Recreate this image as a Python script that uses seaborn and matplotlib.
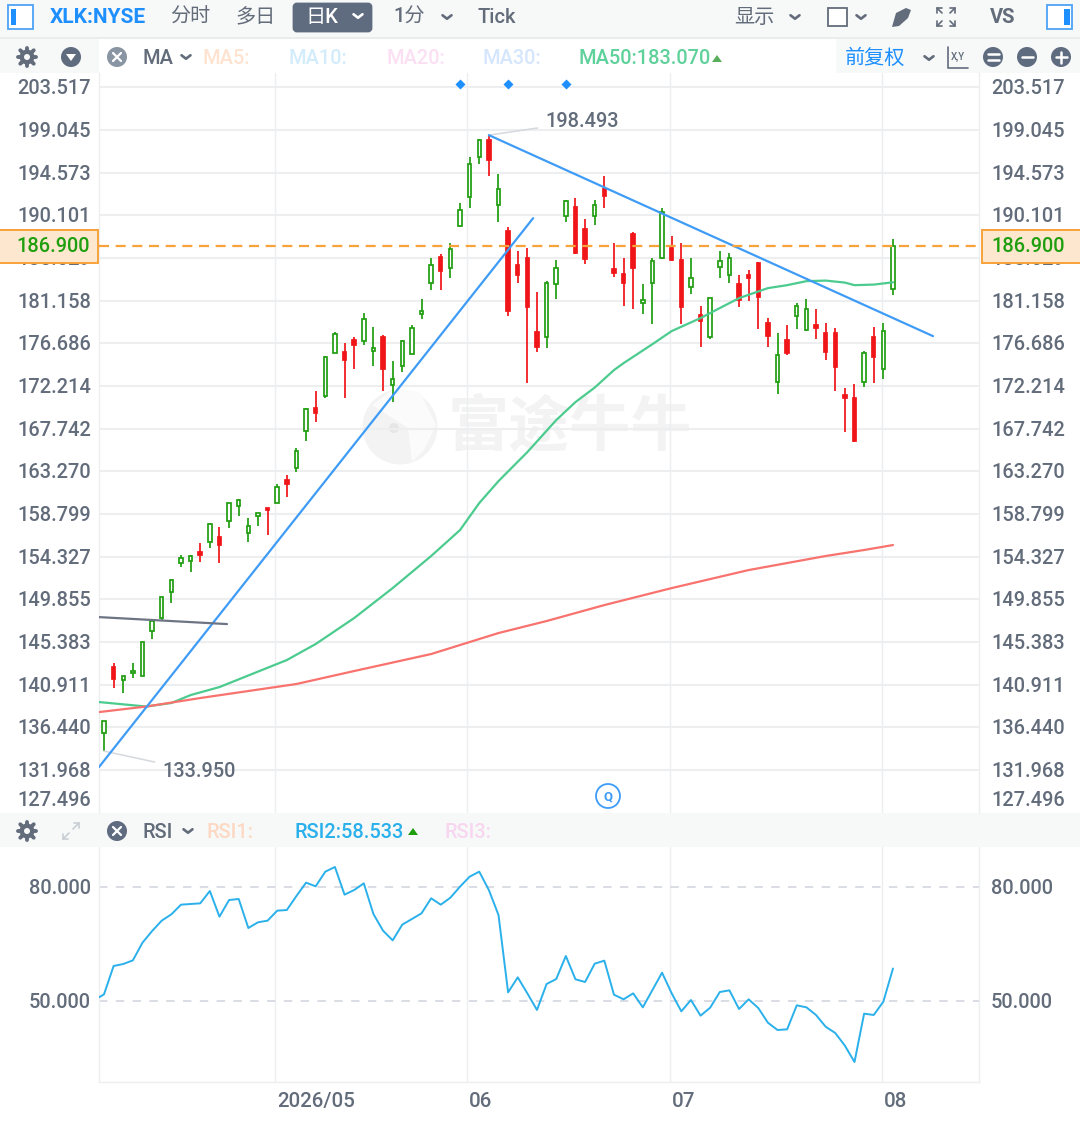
import matplotlib
matplotlib.use("Agg")
import matplotlib.pyplot as plt
from matplotlib.patches import Rectangle, FancyBboxPatch, Circle, Polygon
import seaborn as sns

# candles, one per trading day
opens = [135.81, 142.79, 141.36, 142.10, 141.85, 146.56, 147.86, 150.65, 153.68, 153.89,
         154.80, 155.88, 156.38, 158.02, 159.62, 156.76, 158.58, 159.41, 159.97, 162.35,
         163.57, 167.51, 169.86, 171.18, 175.68, 175.72, 177.01, 176.94, 175.89, 177.36,
         172.33, 174.29, 175.55, 179.74, 182.95, 185.74, 184.52, 188.95, 192.02, 196.15,
         197.96, 191.15, 188.43, 184.84, 185.57, 177.88, 177.36, 182.91, 190.03, 190.91,
         188.61, 190.03, 192.80, 184.48, 183.96, 188.09, 180.92, 182.95, 185.57, 186.62,
         185.39, 182.53, 179.66, 177.30, 184.69, 183.82, 182.88, 183.79, 185.05, 178.76,
         172.64, 176.98, 179.53, 178.06, 178.62, 177.71, 177.71, 171.25, 170.91, 172.64,
         177.33, 173.94, 182.36]
closes = [137.13, 141.47, 141.81, 142.34, 145.41, 147.61, 150.06, 151.87, 154.14, 154.35,
          154.52, 157.74, 155.57, 159.91, 160.25, 157.53, 158.86, 159.17, 161.65, 161.93,
          165.42, 169.75, 169.33, 175.26, 177.61, 174.92, 176.49, 179.18, 176.17, 174.01,
          172.93, 176.88, 178.30, 180.05, 184.90, 184.24, 186.51, 190.63, 195.45, 197.96,
          195.87, 192.80, 180.05, 183.85, 180.44, 176.31, 182.95, 184.56, 191.57, 186.16,
          185.50, 191.15, 192.10, 184.03, 182.95, 184.59, 181.17, 185.26, 190.45, 185.39,
          180.47, 183.48, 179.03, 181.38, 185.26, 185.63, 181.20, 183.51, 181.55, 177.43,
          175.44, 175.62, 180.61, 180.26, 178.30, 175.79, 174.22, 170.97, 166.46, 175.62,
          175.26, 177.96, 186.90]
highs = [137.13, 143.14, 141.81, 143.14, 145.41, 147.61, 150.06, 151.98, 154.46, 154.46,
         155.72, 157.81, 157.46, 159.97, 160.33, 158.40, 158.92, 159.41, 161.93, 162.87,
         165.67, 169.86, 171.67, 175.34, 177.88, 176.67, 177.36, 179.87, 178.41, 177.51,
         174.84, 177.01, 178.58, 181.28, 185.57, 185.99, 187.21, 191.33, 196.15, 198.07,
         198.49, 194.37, 188.82, 186.34, 186.62, 182.01, 183.22, 185.39, 191.68, 191.86,
         189.72, 191.68, 194.19, 187.21, 185.57, 188.29, 182.88, 185.57, 190.81, 187.91,
         187.21, 185.57, 180.57, 181.44, 186.30, 186.10, 183.79, 184.31, 185.22, 179.29,
         177.71, 178.58, 180.92, 181.28, 180.23, 178.76, 178.24, 171.95, 172.37, 175.89,
         178.41, 178.76, 187.56]
lows = [133.95, 140.53, 140.00, 141.57, 141.85, 145.69, 147.68, 149.49, 153.20, 152.68,
        153.79, 155.19, 153.62, 157.35, 158.61, 155.88, 157.53, 156.62, 159.91, 160.57,
        163.22, 166.46, 168.45, 170.97, 175.62, 170.97, 173.98, 176.49, 174.32, 171.67,
        170.55, 173.63, 175.51, 179.18, 182.25, 182.25, 183.48, 188.88, 190.81, 195.45,
        194.19, 189.41, 179.53, 182.95, 172.54, 175.79, 176.14, 181.31, 189.41, 185.99,
        184.94, 189.06, 190.81, 183.64, 180.61, 180.26, 179.74, 178.66, 185.50, 185.29,
        178.66, 181.86, 176.31, 177.09, 183.48, 182.95, 180.44, 181.13, 178.13, 176.31,
        171.32, 175.41, 178.13, 177.96, 177.09, 174.92, 171.70, 167.41, 166.36, 172.06,
        172.54, 172.93, 181.70]

# moving averages, read at the bends of each curve
ma50_x = [-0.52, 4.4, 7, 9, 12, 19, 22, 26, 30, 34, 37, 39, 41, 44, 47, 49, 51, 53, 54, 57, 59,
          62, 64, 66, 69, 71, 73, 75, 77, 78, 80, 82]
ma50_y = [139.09, 138.62, 138.99, 139.82, 140.66, 143.49, 145.17, 147.89, 151.03, 154.39,
          157.11, 159.94, 162.24, 165.28, 168.63, 170.52, 172.04, 173.87, 174.60, 176.59, 177.96,
          179.32, 180.37, 181.41, 182.46, 182.77, 183.19, 183.25, 183.04, 182.77, 182.83, 183.07]
ma_red_x = [-0.52, 4.4, 10, 20, 26, 34, 41, 46, 52, 59, 67, 75, 79, 82]
ma_red_y = [138.04, 138.62, 139.51, 140.98, 142.34, 144.12, 146.32, 147.58, 149.25,
            151.03, 152.92, 154.39, 155.02, 155.54]

# drawn trend lines
trend_up_x = [-0.52, 44.6]
trend_up_y = [132.28, 189.79]
trend_down_x = [40, 86.16]
trend_down_y = [198.49, 177.43]
trend_gray_x = [-0.52, 12.78]
trend_gray_y = [147.99, 147.26]

rsi_x = [-0.52] + list(range(83))
rsi_y = [50.96, 51.75, 59.19, 59.71, 60.67, 65.31, 68.37, 71.09, 72.75, 75.28, 75.46,
         75.63, 78.87, 72.13, 76.51, 76.77, 69.16, 70.65, 71.09, 73.71, 73.88,
         77.56, 81.06, 80.10, 83.95, 85.17, 77.91, 79.13, 80.88, 72.83, 68.46,
         65.92, 70.04, 71.52, 73.01, 76.95, 75.28, 77.12, 80.01, 82.63, 83.95,
         79.13, 72.57, 52.27, 56.21, 52.01, 47.64, 54.46, 55.77, 61.81, 55.69,
         54.99, 59.80, 60.59, 51.66, 50.44, 52.01, 48.34, 52.89, 57.44, 52.01,
         47.29, 50.26, 46.15, 48.25, 52.36, 52.80, 47.90, 50.44, 48.16, 44.31,
         42.39, 42.56, 48.86, 48.34, 46.33, 43.26, 41.60, 38.28, 33.99, 46.68,
         46.33, 49.83, 58.53]

price_ticks = [203.517, 199.045, 194.573, 190.101, 185.629, 181.158, 176.686, 172.214,
               167.742, 163.270, 158.799, 154.327, 149.855, 145.383, 140.911, 136.440, 131.968]
month_ticks = [17.77, 37.73, 58.82, 80.86]
month_labels = ["2026/05", "06", "07", "08"]
rsi_ticks = [80, 50]
event_days = [37, 42, 48]
last_price = 186.90

W, H = 1080, 1121
GRAY = "#626c7a"
GRID = "#eceef0"
GREEN = "#1f9e0f"
RED = "#f01518"
BLUE = "#1e8fff"
BAND = "#f7f9f9"

sns.set_theme(style="white")
plt.rcParams["font.family"] = ["Roboto", "Noto Sans CJK SC", "DejaVu Sans"]
plt.rcParams["axes.unicode_minus"] = False

fig = plt.figure(figsize=(W / 100, H / 100), dpi=100)
fig.patch.set_facecolor("white")


def axes_box(left, top, right, bottom):
    return [left / W, 1 - bottom / H, (right - left) / W, (bottom - top) / H]


ui = fig.add_axes([0, 0, 1, 1], zorder=0)
ui.set_xlim(0, W)
ui.set_ylim(H, 0)
ui.axis("off")

ax = fig.add_axes(axes_box(99, 73, 979, 812.7), zorder=2)
ax_rsi = fig.add_axes(axes_box(99, 847, 979, 1081.7), zorder=2)
top = fig.add_axes([0, 0, 1, 1], zorder=5)
top.set_xlim(0, W)
top.set_ylim(H, 0)
top.axis("off")
top.patch.set_alpha(0)

xlim = (-0.52, 90.94)
ax.set_xlim(xlim)
ax.set_ylim(127.496, 205.0)
ax_rsi.set_xlim(xlim)
ax_rsi.set_ylim(28.82, 90.42)
ax.patch.set_alpha(0)
ax_rsi.patch.set_alpha(0)

# watermark under the candles
ui.add_patch(Circle((400, 427), 37.5, fc="#f3f3f3", ec="none"))
ui.add_patch(Polygon([[372, 405], [408, 428], [412, 462], [424, 450], [436, 425], [420, 392], [395, 388]],
                     fc="#fbfbfb", ec="none"))
ui.add_patch(Circle((394, 428), 5, fc="#e6e6e6", ec="none"))
ui.text(570, 428, "富途牛牛", fontsize=44, color="#f3f3f3", ha="center", va="center",
        fontweight="bold", family=["Noto Sans CJK SC", "DejaVu Sans"])

# grid
for a in (ax, ax_rsi):
    a.set_xticks(month_ticks)
    a.set_xticklabels([])
    a.tick_params(axis="both", length=0)
    for s in a.spines.values():
        s.set_color(GRID)
        s.set_linewidth(1.0)
    a.spines["top"].set_visible(False)
    a.grid(axis="x", color=GRID, lw=1.0)
ax.spines["bottom"].set_visible(False)
ax.set_yticks(price_ticks)
ax.set_yticklabels([])
ax.grid(axis="y", color=GRID, lw=1.5)
ax_rsi.set_yticks(rsi_ticks)
ax_rsi.set_yticklabels([])
ax_rsi.grid(axis="y", color="#cfd3dc", lw=1.1, ls=(0, (5.5, 5.5)))

# y labels on both sides, nudged down a little to sit on the grid line
tick_font = dict(fontsize=14.4, color=GRAY, va="center", fontweight="medium")
for v in price_ticks + [127.496]:
    lab = f"{v:.3f}"
    dy = 8.9 if v == 127.496 else -1.1
    for xpos, ha, off in ((0, "right", -5.8), (1, "left", 8.6)):
        ax.annotate(lab, xy=(xpos, v), xycoords=("axes fraction", "data"), xytext=(off, dy),
                    textcoords="offset points", ha=ha, annotation_clip=False, **tick_font)
for v in rsi_ticks:
    for xpos, ha, off in ((0, "right", -5.8), (1, "left", 8.6)):
        ax_rsi.annotate(f"{v:.3f}", xy=(xpos, v), xycoords=("axes fraction", "data"), xytext=(off, -1.1),
                        textcoords="offset points", ha=ha, annotation_clip=False, **tick_font)
for m, lab in zip(month_ticks, month_labels):
    ax_rsi.annotate(lab, xy=(m, 0), xycoords=("data", "axes fraction"), xytext=(1.5, -14.3),
                    textcoords="offset points", ha="left", va="center", fontsize=14.8, color=GRAY,
                    fontweight="medium", annotation_clip=False)

# candles
for i, (o, h, l, c) in enumerate(zip(opens, highs, lows, closes)):
    up = c >= o
    col = GREEN if up else RED
    ax.vlines(i, l, h, color=col, lw=1.25, zorder=3)
    ax.bar(i, abs(c - o), bottom=min(o, c), width=0.36, color="white" if up else col,
           edgecolor=col, linewidth=1.25, zorder=4)

# moving averages and drawn lines
sns.lineplot(x=ma50_x, y=ma50_y, ax=ax, color="#4ccb8f", linewidth=1.6, estimator=None, sort=False, zorder=5)
sns.lineplot(x=ma_red_x, y=ma_red_y, ax=ax, color="#f8726e", linewidth=1.6, estimator=None, sort=False, zorder=5)
sns.lineplot(x=trend_up_x, y=trend_up_y, ax=ax, color="#3f9cf6", linewidth=1.6, estimator=None, sort=False, zorder=6)
sns.lineplot(x=trend_down_x, y=trend_down_y, ax=ax, color="#3f9cf6", linewidth=1.6, estimator=None, sort=False, zorder=6)
sns.lineplot(x=trend_gray_x, y=trend_gray_y, ax=ax, color="#6d7484", linewidth=1.6, estimator=None, sort=False, zorder=6)
sns.lineplot(x=rsi_x, y=rsi_y, ax=ax_rsi, color="#2ab0ea", linewidth=1.4, estimator=None, sort=False, zorder=5)

# last price line
ax.axhline(last_price, color="#f7a23b", lw=1.6, ls=(0, (4.5, 3)), zorder=7)

# event markers at the top
ax.scatter(event_days, [203.8] * len(event_days), marker="D", s=26, color=BLUE, zorder=8, linewidths=0)

# high and low call-outs
ax.annotate("198.493", xy=(40, 198.49), xytext=(545, 1121 - 121.5), textcoords="figure pixels",
            fontsize=14.4, color=GRAY, va="center", ha="left", fontweight="medium",
            arrowprops=dict(arrowstyle="-", color="#d5d8dc", lw=1.1, shrinkA=3, shrinkB=0))
ax.annotate("133.950", xy=(0, 133.95), xytext=(162, 1121 - 771.5), textcoords="figure pixels",
            fontsize=14.4, color=GRAY, va="center", ha="left", fontweight="medium",
            arrowprops=dict(arrowstyle="-", color="#d5d8dc", lw=1.1, shrinkA=3, shrinkB=0))


# ---- toolbar chrome, in pixel coordinates ----
def chevron(g, x, y, col=GRAY, w=4.5, h=3.5, lw=1.9):
    g.plot([x - w, x, x + w], [y - h / 2, y + h / 2, y - h / 2], color=col, lw=lw, solid_capstyle="round")


def label(g, x, y, s, col=GRAY, fs=14.4, ha="left", **kw):
    kw.setdefault("fontweight", "medium")
    g.text(x, y + 1.5, s, color=col, fontsize=fs, ha=ha, va="center", **kw)


def gear(g, x, y):
    g.add_patch(Circle((x, y), 7.5, fc=GRAY, ec="none"))
    for dx, dy in ((0, -9), (0, 9), (-9, 0), (9, 0), (-6.4, -6.4), (6.4, -6.4), (-6.4, 6.4), (6.4, 6.4)):
        g.plot([x + dx * 0.7, x + dx * 1.05], [y + dy * 0.7, y + dy * 1.05], color=GRAY, lw=2.8)
    g.add_patch(Circle((x, y), 3, fc=BAND, ec="none", zorder=4))


def xcircle(g, x, y, col):
    g.add_patch(Circle((x, y), 10, fc=col, ec="none"))
    g.plot([x - 4, x + 4], [y - 4, y + 4], color="white", lw=1.6)
    g.plot([x - 4, x + 4], [y + 4, y - 4], color="white", lw=1.6)


def panel_icon(g, x0, bar0, bar1):
    g.add_patch(Rectangle((x0, 5), 25, 24, fc="white", ec="#4da3f7", lw=1.3))
    g.add_patch(Rectangle((bar0, 9), bar1 - bar0, 16, fc=BLUE, ec="none"))


ui.add_patch(Rectangle((0, 0), W, 38, fc="#f7f8f8", ec="none"))
ui.plot([0, W], [38, 38], color="#e8eaea", lw=1.2)
ui.add_patch(Rectangle((0, 39), 99, 34, fc=BAND, ec="none"))
ui.add_patch(Rectangle((836, 39), 244, 34, fc=BAND, ec="none"))
ui.add_patch(Rectangle((0, 813), W, 34, fc=BAND, ec="none"))

panel_icon(top, 8, 10.5, 15.5)
label(top, 50, 16, "XLK:NYSE", BLUE, 15, fontweight="bold")
label(top, 170, 16, "分时", GRAY, 14.5)
label(top, 235, 16, "多日", GRAY, 14.5)
top.add_patch(FancyBboxPatch((294, 4), 77, 27, boxstyle="round,pad=0,rounding_size=3", fc="#5f6c80", ec="#5f6c80", lw=2))
label(top, 305, 16, "日K", "white", 14.5)
chevron(top, 358, 16, "white")
label(top, 393, 16, "1分", GRAY, 14.5)
chevron(top, 447, 17)
label(top, 478, 16, "Tick", GRAY, 14.5)
label(top, 734, 16, "显示", GRAY, 14.5)
chevron(top, 795, 17)
top.add_patch(Rectangle((828, 8), 19, 18, fc="white", ec=GRAY, lw=1.3))
chevron(top, 861, 17)
top.add_patch(Polygon([[892, 27], [896, 13], [906, 8], [911, 10], [908, 18], [899, 26]], fc=GRAY, ec="none"))
for sx, sy in ((-1, -1), (1, -1), (-1, 1), (1, 1)):
    cx, cy = 946 + sx * 9, 17 + sy * 9
    top.plot([cx - sx * 5, cx, cx], [cy, cy, cy - sy * 5], color=GRAY, lw=1.2)
    top.plot([cx, cx - sx * 5], [cy, cy - sy * 5], color=GRAY, lw=1.2)
label(top, 1003, 16, "VS", GRAY, 14.5, ha="center", fontweight="bold")
panel_icon(top, 1047, 1064, 1069.5)

gear(top, 27, 57)
top.add_patch(Circle((71, 57), 10, fc="#5f6c80", ec="none"))
top.add_patch(Polygon([[66, 54], [76, 54], [71, 61]], fc="white", ec="none"))
xcircle(top, 117, 57, "#8a95a3")
label(top, 142, 57, "MA")
chevron(top, 186, 57)
label(top, 203, 57, "MA5:", "#fde3d0")
label(top, 289, 57, "MA10:", "#d3ecfb")
label(top, 386, 57, "MA20:", "#fbdff3")
label(top, 482, 57, "MA30:", "#d5e6fd")
label(top, 579, 57, "MA50:183.070", "#5fd19b")
top.add_patch(Polygon([[712, 62], [722, 62], [717, 55]], fc="#5aad5a", ec="none"))
label(top, 845, 57, "前复权", BLUE, 14.5)
chevron(top, 929, 58)
top.plot([948, 948, 968], [47, 68, 68], color=GRAY, lw=1.2)
label(top, 951, 55.5, "X,Y", GRAY, 7)
for cx, bars in ((993, (-3, 3)), (1027, (0,)), (1061, (0,))):
    top.add_patch(Circle((cx, 57), 10, fc="#5f6c80", ec="none"))
    for b in bars:
        top.plot([cx - 5.5, cx + 5.5], [57 + b, 57 + b], color="white", lw=1.8)
top.plot([1061, 1061], [51.5, 62.5], color="white", lw=1.8)

# rsi header row
gear(top, 27, 831)
for sgn in (-1, 1):
    tipx, tipy = 71 + sgn * 8, 831 - sgn * 8
    top.plot([71 + sgn * 2, tipx], [831 - sgn * 2, tipy], color="#c9ced4", lw=1.2)
    top.plot([tipx - sgn * 5, tipx, tipx], [tipy, tipy, tipy + sgn * 5], color="#c9ced4", lw=1.2)
xcircle(top, 117, 831, "#5f6c80")
label(top, 142, 831, "RSI")
chevron(top, 188, 831)
label(top, 206, 831, "RSI1:", "#fdd9c4")
label(top, 294, 831, "RSI2:58.533", "#2ab0ea")
top.add_patch(Polygon([[408, 835], [418, 835], [413, 828]], fc="#1f9e0f", ec="none"))
label(top, 444, 831, "RSI3:", "#f8d6f0")

# zoom badge
top.add_patch(Circle((608, 796), 12, fc="white", ec="#3f9cf6", lw=1.3))
label(top, 608, 795, "Q", "#3f9cf6", 9.5, ha="center", fontweight="bold")

# price boxes over the ghost label
for x0, x1, tx in ((-2, 98, 16), (982, 1082, 991)):
    top.add_patch(Rectangle((x0, 230), x1 - x0, 32.5, fc="#fde8cf", ec="#f7a23b", lw=1.4))
    label(top, tx, 245.5, "186.900", GREEN, 14.4)

fig.savefig("out.png", dpi=100)
plt.close(fig)
